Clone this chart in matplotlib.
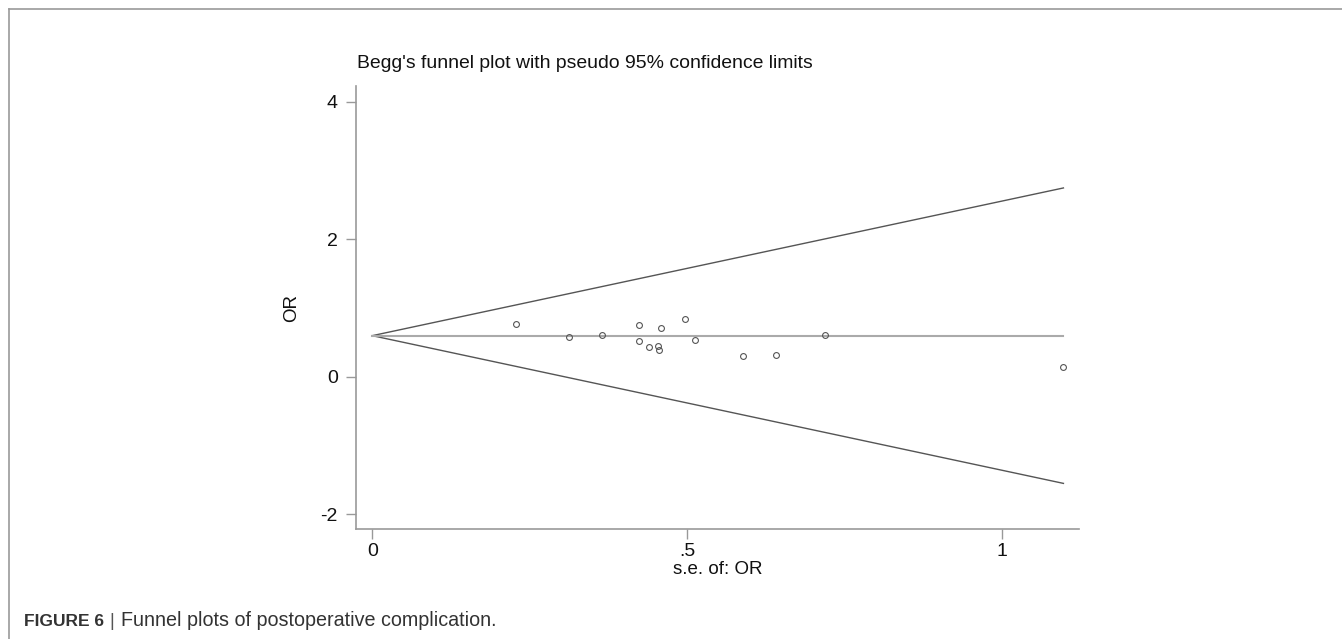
import numpy as np
import matplotlib.pyplot as plt
from matplotlib.lines import Line2D

plt.rcParams['font.family'] = ['Liberation Sans', 'DejaVu Sans']
plt.rcParams['axes.unicode_minus'] = False

# Данные исследований (s.e. и логарифм OR)
se = [0.228, 0.313, 0.364, 0.423, 0.423, 0.458, 0.439, 0.4535, 0.4546,
      0.496, 0.513, 0.588, 0.641, 0.718, 1.097]
log_or = [0.770, 0.581, 0.601, 0.747, 0.523, 0.703, 0.426, 0.450, 0.392,
          0.834, 0.533, 0.296, 0.319, 0.601, 0.140]
pooled = 0.596
se_max = 1.097
xticks = [0, 0.5, 1]
xticklabels = ['0', '.5', '1']
yticks = [-2, 0, 2, 4]

W, H = 1342, 639
fig = plt.figure(figsize=(W / 100, H / 100), dpi=100)
ax = fig.add_axes([355.7 / W, 1 - 529 / H, (1079 - 355.7) / W, (529 - 86) / H])

# Псевдо 95% границы
s = np.array([0, se_max])
ax.plot(s, pooled + 1.96 * s, color='#555555', lw=1.0)
ax.plot(s, pooled - 1.96 * s, color='#555555', lw=1.0)
ax.plot(s, [pooled, pooled], color='#aaaaaa', lw=1.5)

ax.plot(se, log_or, 'o', mfc='none', mec='#555555', ms=4.2, mew=0.8)

ax.set_xlim(-0.0263, 1.1217)
ax.set_ylim(-2.218, 4.23)
ax.set_xticks(xticks)
ax.set_xticklabels(xticklabels)
ax.set_yticks(yticks)

for sp in ['top', 'right']:
    ax.spines[sp].set_visible(False)
for sp in ['left', 'bottom']:
    ax.spines[sp].set_color('#999999')
    ax.spines[sp].set_linewidth(1.2)
ax.tick_params(axis='both', colors='#999999', length=7, width=1, labelsize=14,
               labelcolor='#111111')
ax.tick_params(axis='y', pad=6)
ax.tick_params(axis='x', pad=3)

# Подписи
fig.text(357 / W, 1 - 63 / H, "Begg's funnel plot with pseudo 95% confidence limits",
         fontsize=13.95, va='center', ha='left', color='#111111')
fig.text(717.5 / W, 1 - 569 / H, 's.e. of: OR', fontsize=13.5, ha='center', va='center',
         color='#111111')
fig.text(291.7 / W, 1 - 308 / H, 'OR', fontsize=13.5, rotation=90, ha='center', va='center',
         color='#111111')

# Рамка и подпись рисунка
fig.add_artist(Line2D([9 / W, 1], [1 - 9 / H, 1 - 9 / H], color='#999999', lw=1.2,
                      transform=fig.transFigure))
fig.add_artist(Line2D([9 / W, 9 / W], [1 - 9 / H, 0], color='#999999', lw=1.2,
                      transform=fig.transFigure))
fig.text(24 / W, 1 - 621 / H, 'FIGURE 6', fontsize=12.5, fontweight='bold', color='#333333',
         ha='left', va='center')
fig.text(112 / W, 1 - 621 / H, '|', fontsize=13, color='#555555', ha='center', va='center')
fig.text(121 / W, 1 - 621 / H, 'Funnel plots of postoperative complication.', fontsize=14.2,
         color='#333333', ha='left', va='center')

fig.savefig('out.png', dpi=100)
